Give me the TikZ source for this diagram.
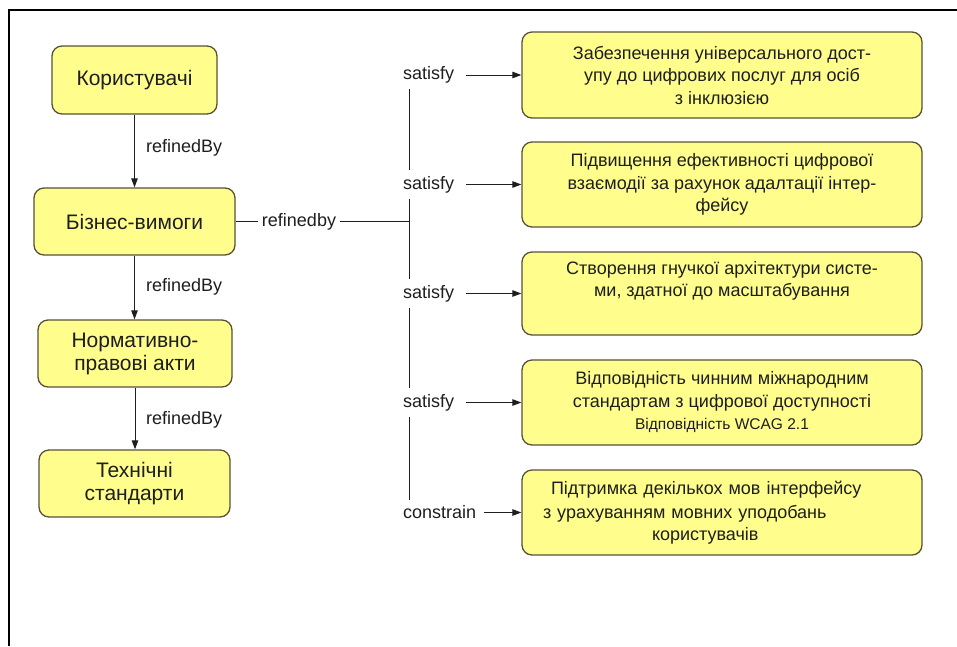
\documentclass[tikz,border=0pt]{standalone}
\usepackage{fontspec}
\setmainfont{Liberation Sans}
\usetikzlibrary{arrows.meta}
\definecolor{boxc}{RGB}{255,254,140}
\definecolor{bordc}{RGB}{85,82,55}
\definecolor{txtc}{RGB}{30,30,30}
\tikzset{
  lbox/.style={draw=bordc, fill=boxc, rounded corners=10pt, line width=1.3pt, align=center, text=txtc, font=\fontsize{21}{23}\selectfont, inner sep=0pt},
  rbox/.style={draw=bordc, fill=boxc, rounded corners=10pt, line width=1.3pt, align=center, text=txtc, minimum width=400pt, font=\fontsize{18}{22.5}\selectfont, inner sep=0pt},
  lab/.style={text=txtc, font=\fontsize{18}{22}\selectfont, inner xsep=0pt, inner ysep=5.6pt},
  conn/.style={draw=txtc, line width=1pt},
  arr/.style={conn, -{Triangle[length=9pt,width=6.5pt]}},
}
\begin{document}
\begin{tikzpicture}[x=1pt,y=-1pt]
\useasboundingbox (0,0) rectangle (957,646);
\draw[line width=2pt, black] (957,10) -- (9,10) -- (9,646);

% left column
\node[lbox, minimum width=165pt, minimum height=68pt] (k) at (134.5,80) {Користувачі};
\node[lbox, minimum width=201pt, minimum height=67pt] (b) at (134.5,221.5) {Бізнес-вимоги};
\node[lbox, minimum width=194pt, minimum height=67pt] (n) at (135,353.5) {Нормативно-\\правові акти};
\node[lbox, minimum width=191pt, minimum height=67pt] (t) at (134.5,483.5) {Технічні\\стандарти};

\node[lab, anchor=west] (r1) at (146,148) {refinedBy};
\node[lab, anchor=west] (r2) at (146,287) {refinedBy};
\node[lab, anchor=west] (r3) at (146,420) {refinedBy};

\draw[arr] (k.south) -- (k.south |- b.north);
\draw[arr] (b.south) -- (b.south |- n.north);
\draw[arr] (n.south) -- (n.south |- t.north);

% right column
\node[rbox, minimum height=86pt] (g1) at (722,75) {Забезпечення універсального дост-\\упу до цифрових послуг для осіб\\з інклюзією};
\node[rbox, minimum height=85pt] (g2) at (722,184.5) {Підвищення ефективності цифрової\\взаємодії за рахунок адалтації інтер-\\фейсу};
\node[rbox, minimum height=83pt] (g3) at (722,293.5) {Створення гнучкої архітектури систе-\\ми, здатної до масштабування\\\strut};
\node[rbox, minimum height=85pt] (g4) at (722,402.5) {\fontsize{18}{25}\selectfont Відповідність чинним міжнародним\\стандартам з цифрової доступності\\{\fontsize{15.5}{25}\selectfont Відповідність WCAG 2.1}};
\node[rbox, minimum height=85pt, align=left, text width=400pt] (g5) at (722,512.5) {\fontsize{18}{24}\selectfont\hspace*{29pt}Підтримка декількох мов інтерфейсу\\\hspace*{21pt}з урахуванням мовних уподобань\\\hspace*{130pt}користувачів};

% labels on the trunk
\node[lab, anchor=west] (s1) at (403,75) {satisfy};
\node[lab, anchor=west] (s2) at (403,184.5) {satisfy};
\node[lab, anchor=west] (s3) at (403,293.5) {satisfy};
\node[lab, anchor=west] (s4) at (403,402.5) {satisfy};
\node[lab, anchor=west] (c5) at (403,512.5) {constrain};

\coordinate (vx) at (409,0);
\draw[conn] (s1.south -| vx) -- (s2.north -| vx);
\draw[conn] (s2.south -| vx) -- (s3.north -| vx);
\draw[conn] (s3.south -| vx) -- (s4.north -| vx);
\draw[conn] (s4.south -| vx) -- (c5.north -| vx);

% refinedby branch
\node[lab, inner xsep=4pt] (rb) at (299,221.5) {refinedby};
\draw[conn] (b.east) -- (rb.west);
\draw[conn] (rb.east) -- (rb.east -| vx);

% arrows to goals
\draw[arr] ([xshift=12pt]s1.east) -- (g1.west);
\draw[arr] ([xshift=12pt]s2.east) -- (g2.west);
\draw[arr] ([xshift=12pt]s3.east) -- (g3.west);
\draw[arr] ([xshift=12pt]s4.east) -- (g4.west);
\draw[arr] ([xshift=8pt]c5.east) -- (g5.west);
\end{tikzpicture}
\end{document}
